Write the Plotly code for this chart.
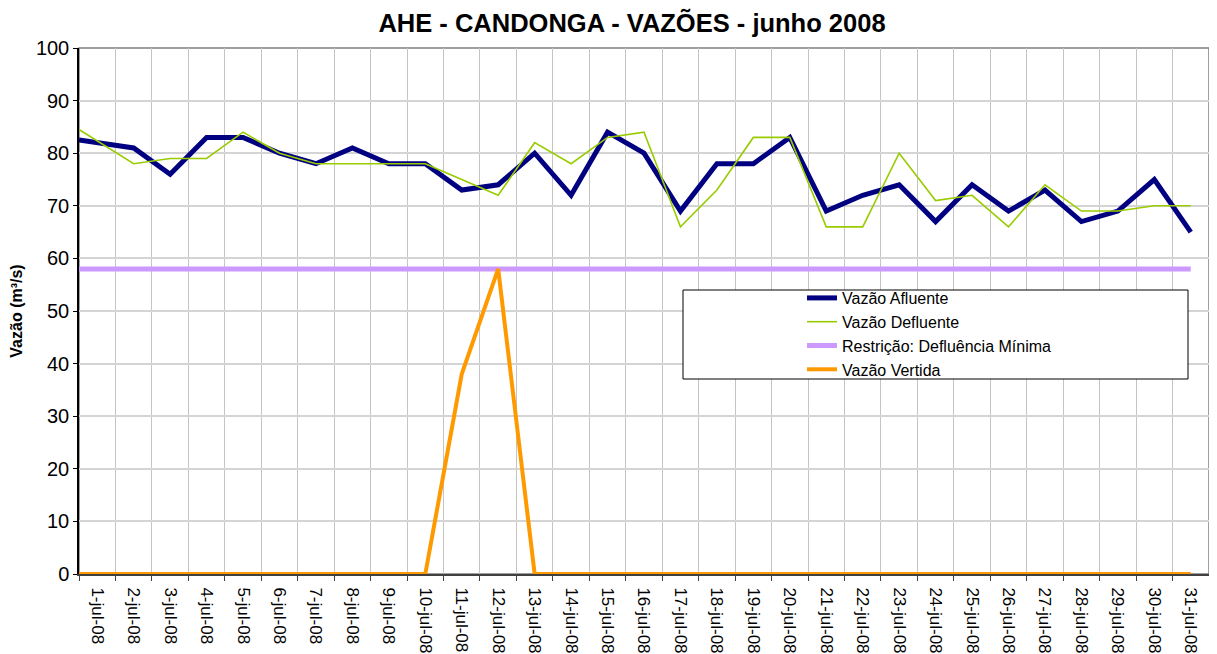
import plotly.graph_objects as go
import pandas as pd

# ---------------- data ----------------
day_labels = [f"{d}-jul-08" for d in range(1, 32)]
# observation timestamps (first reading at start of the period, others mid-day)
obs_times = ["2008-07-01 00:00"] + [f"2008-07-{d:02d} 12:00" for d in range(2, 32)]

vazao_afluente = [82.5, 81, 76, 83, 83, 80, 78, 81, 78, 78,
                  73, 74, 80, 72, 84, 80, 69, 78, 78, 83,
                  69, 72, 74, 67, 74, 69, 73, 67, 69, 75, 65]
vazao_defluente = [84.5, 78, 79, 79, 84, 80, 78, 78, 78, 78,
                   75, 72, 82, 78, 83, 84, 66, 73, 83, 83,
                   66, 66, 80, 71, 72, 66, 74, 69, 69, 70, 70]
restricao_min = [58] * 31
vazao_vertida = [0, 0, 0, 0, 0, 0, 0, 0, 0, 0,
                 38, 58, 0, 0, 0, 0, 0, 0, 0, 0,
                 0, 0, 0, 0, 0, 0, 0, 0, 0, 0, 0]

# category boundaries and centres for the axis
boundaries = pd.date_range("2008-07-01", "2008-08-01", freq="D")
centres = pd.date_range("2008-07-01 12:00", periods=31, freq="D")

FONT = "Liberation Sans, Arial, sans-serif"

# page body has an 8px default margin -> figure drawn offset by 8px
OFF = 8
W, H = 1217 - OFF, 654 - OFF
PL, PR, PT, PB = 79 - OFF, 1209 - OFF, 48 - OFF, 574 - OFF  # plot area in figure px
PW, PH = PR - PL, PB - PT


def px_x(x):  # reference pixel -> paper fraction
    return (x - OFF - PL) / PW


def px_y(y):
    return (PB - (y - OFF)) / PH


fig = go.Figure()
fig.add_trace(go.Scatter(x=obs_times, y=vazao_afluente, name="Vazão Afluente",
                         mode="lines", line=dict(color="#000080", width=5)))
fig.add_trace(go.Scatter(x=obs_times, y=vazao_defluente, name="Vazão Defluente",
                         mode="lines", line=dict(color="#99cc00", width=1.6)))
fig.add_trace(go.Scatter(x=obs_times, y=restricao_min, name="Restrição: Defluência Mínima",
                         mode="lines", line=dict(color="#cc99ff", width=5)))
fig.add_trace(go.Scatter(x=obs_times, y=vazao_vertida, name="Vazão Vertida",
                         mode="lines", line=dict(color="#ff9900", width=4)))
# helper trace so the label axis is rendered
fig.add_trace(go.Scatter(x=list(centres), y=[None] * 31, xaxis="x2", mode="lines",
                         showlegend=False, hoverinfo="skip"))

x_range = [boundaries[0], boundaries[-1]]

fig.update_layout(
    width=W, height=H,
    margin=dict(l=PL, r=W - PR, t=PT, b=H - PB, autoexpand=False),
    paper_bgcolor="white", plot_bgcolor="white",
    font=dict(family=FONT, color="black"),
    title=dict(text="<b>AHE - CANDONGA - VAZÕES - junho 2008</b>",
               x=(632 - OFF) / W, xanchor="center", y=1 - (23 - OFF) / H, yanchor="middle",
               font=dict(size=25.5, family=FONT)),
    xaxis=dict(type="date", range=x_range, tickvals=list(boundaries),
               showticklabels=False, showgrid=True, gridcolor="#c4c4c4", gridwidth=1,
               ticks="outside", ticklen=5, tickcolor="#404040", automargin=False,
               showline=True, linecolor="#404040", linewidth=1.5, zeroline=False),
    xaxis2=dict(type="date", range=x_range, overlaying="x", side="bottom",
                tickvals=list(centres), ticktext=day_labels, tickangle=90,
                showgrid=False, ticks="outside", ticklen=9, tickcolor="rgba(0,0,0,0)",
                showline=False, zeroline=False, automargin=False,
                tickfont=dict(size=17, family=FONT)),
    yaxis=dict(range=[0, 100], dtick=10, showgrid=True, gridcolor="#d4d4d4", gridwidth=1.5,
               ticks="outside", ticklen=4, tickcolor="#000000", automargin=False,
               showline=True, linecolor="#000000", linewidth=1.5, zeroline=False,
               tickfont=dict(size=20, family=FONT),
               title=dict(text="<b>Vazão (m³/s)</b>", font=dict(size=16, family=FONT),
                          standoff=14)),
    legend=dict(x=px_x(802), xanchor="left",
                y=px_y(281), yanchor="top",
                bgcolor="rgba(0,0,0,0)", borderwidth=0,
                font=dict(size=16, family=FONT), traceorder="normal"),
    shapes=[
        dict(type="rect", xref="paper", yref="paper", x0=0, x1=1, y0=0, y1=1,
             line=dict(color="#808080", width=1.5), layer="below"),
        dict(type="rect", xref="paper", yref="paper",
             x0=px_x(683), x1=px_x(1188), y0=px_y(379), y1=px_y(290),
             line=dict(color="black", width=1), fillcolor="white", layer="above"),
    ],
)

fig.write_html("out.html")
